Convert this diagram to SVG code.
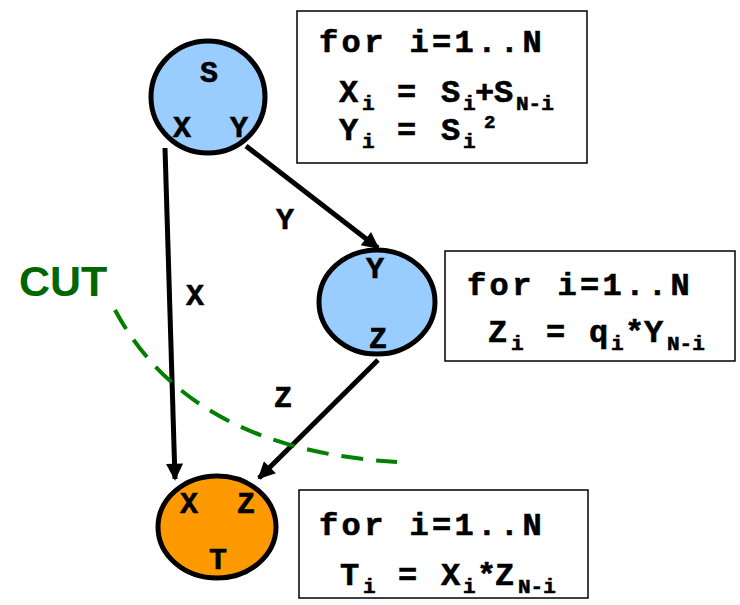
<svg xmlns="http://www.w3.org/2000/svg" width="740" height="605" viewBox="0 0 740 605">
<defs>
<style>
.node{stroke:#000;stroke-width:5}
.blue{fill:#99ccff}
.orange{fill:#ff9900}
.lbl{font-family:"Liberation Mono",monospace;font-weight:bold;font-size:30px;fill:#000;text-anchor:middle;stroke:#000;stroke-width:0.6}
.box{fill:#fff;stroke:#000;stroke-width:1.5}
.code{font-family:"Liberation Mono",monospace;font-weight:bold;font-size:32px;fill:#000;stroke:#000;stroke-width:0.6}
.sub{font-size:21px}
.sup{font-size:19px}
.edge{stroke:#000;stroke-width:5;fill:none;marker-end:url(#ah)}
</style>
<marker id="ah" viewBox="0 0 10 10" refX="9" refY="5" markerWidth="4.2" markerHeight="3.4" orient="auto" markerUnits="strokeWidth">
<path d="M0,0 L10,5 L0,10 z" fill="#000"/>
</marker>
</defs>
<rect width="740" height="605" fill="#fff"/>
<g id="connectors">
<line class="edge" x1="165" y1="148" x2="175" y2="479"/>
<line class="edge" x1="246" y1="146" x2="378" y2="248"/>
<line class="edge" x1="378" y1="360" x2="259" y2="478"/>
<text class="lbl" x="285" y="229">Y</text>
<text class="lbl" x="195" y="305">X</text>
<text class="lbl" x="283" y="407">Z</text>
</g>
<g id="node-S">
<ellipse class="node blue" cx="208" cy="97" rx="57" ry="56"/>
<text class="lbl" x="209" y="82">S</text>
<text class="lbl" x="182" y="137">X</text>
<text class="lbl" x="239" y="137">Y</text>
</g>
<g id="node-YZ">
<ellipse class="node blue" cx="377" cy="302" rx="58" ry="52"/>
<text class="lbl" x="375" y="278">Y</text>
<text class="lbl" x="378" y="348">Z</text>
</g>
<g id="node-T">
<ellipse class="node orange" cx="217" cy="527" rx="59" ry="51"/>
<text class="lbl" x="189" y="513">X</text>
<text class="lbl" x="246" y="513">Z</text>
<text class="lbl" x="218" y="569">T</text>
</g>
<g id="cut">
<path d="M115,310 Q190,450 397,462" fill="none" stroke="#008000" stroke-width="4" stroke-dasharray="22,13"/>
<text x="19" y="296" font-family="'Liberation Sans',Arial,sans-serif" font-weight="bold" font-size="43" fill="#006600">CUT</text>
</g>
<g id="box-S">
<rect class="box" x="297" y="11" width="290" height="152"/>
<text class="code" x="319" y="52" letter-spacing="3.4">for i=1..N</text>
<text class="code" y="102"><tspan x="339">X</tspan><tspan class="sub" x="362" dy="8">i</tspan><tspan x="397" dy="-8">=</tspan><tspan x="441">S</tspan><tspan class="sub" x="463" dy="8">i</tspan><tspan x="475" dy="-8">+</tspan><tspan x="494">S</tspan><tspan class="sub" x="516" dy="8">N-i</tspan></text>
<text class="code" y="140"><tspan x="339">Y</tspan><tspan class="sub" x="362" dy="8">i</tspan><tspan x="397" dy="-8">=</tspan><tspan x="441">S</tspan><tspan class="sub" x="463" dy="8">i</tspan></text>
<text class="code sup" x="484" y="128">2</text>
</g>
<g id="box-YZ">
<rect class="box" x="445" y="251" width="290" height="110"/>
<text class="code" x="467" y="295" letter-spacing="3.4">for i=1..N</text>
<text class="code" y="342"><tspan x="488">Z</tspan><tspan class="sub" x="511" dy="8">i</tspan><tspan x="546" dy="-8">=</tspan><tspan x="589">q</tspan><tspan class="sub" x="611" dy="8">i</tspan><tspan x="625" dy="-8">*</tspan><tspan x="644">Y</tspan><tspan class="sub" x="667" dy="8">N-i</tspan></text>
</g>
<g id="box-T">
<rect class="box" x="299" y="490" width="289" height="108"/>
<text class="code" x="319" y="535" letter-spacing="3.4">for i=1..N</text>
<text class="code" y="585"><tspan x="340">T</tspan><tspan class="sub" x="363" dy="8">i</tspan><tspan x="398" dy="-8">=</tspan><tspan x="441">X</tspan><tspan class="sub" x="463" dy="8">i</tspan><tspan x="477" dy="-8">*</tspan><tspan x="495">Z</tspan><tspan class="sub" x="518" dy="8">N-i</tspan></text>
</g>
</svg>
